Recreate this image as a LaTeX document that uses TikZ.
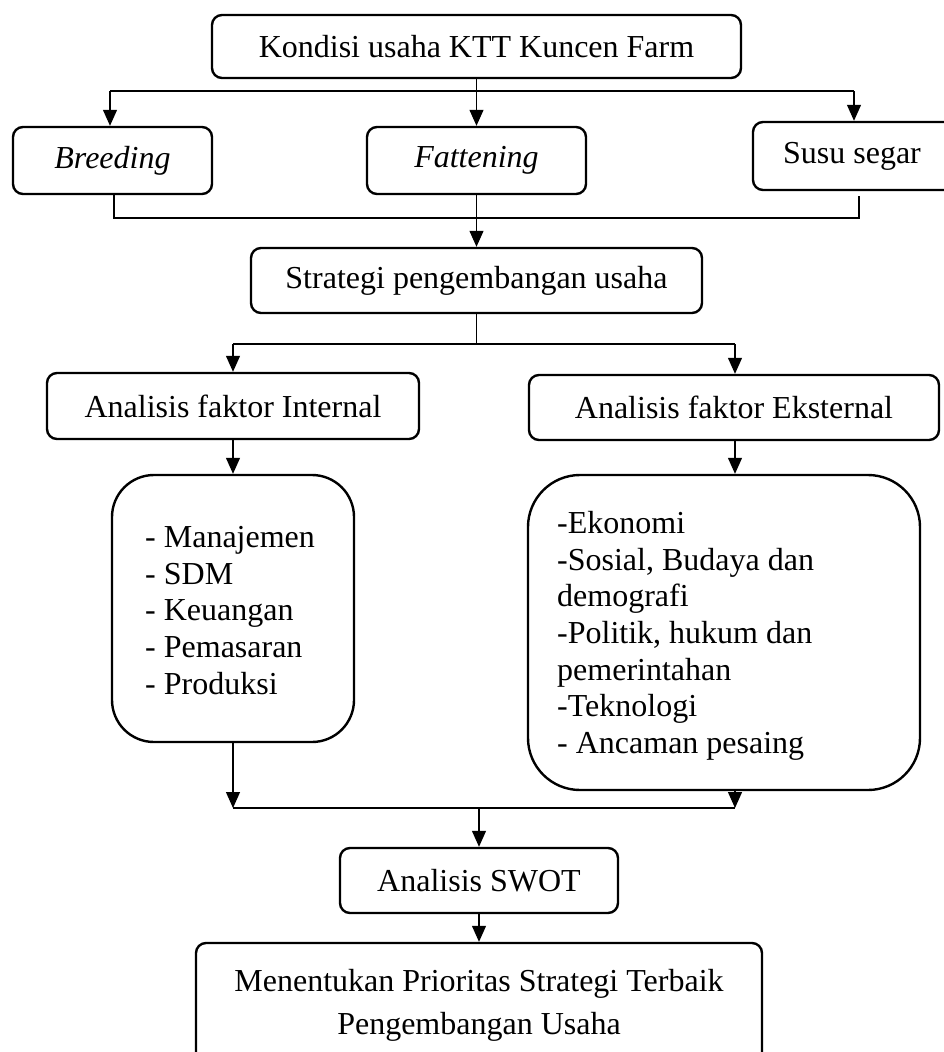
\documentclass[tikz,border=0pt]{standalone}
\usepackage{fontspec}
\setmainfont{Liberation Serif}
\usetikzlibrary{arrows.meta}
\begin{document}
\begin{tikzpicture}[x=1pt,y=-1pt,
  box/.style={draw, line width=2.4pt, rounded corners=10pt, inner sep=0pt,
    font=\fontsize{32}{37}\selectfont},
  listbox/.style={draw, line width=2.4pt, inner sep=0pt},
  conn/.style={line width=1.2pt},
  arr/.style={conn, -{Triangle[length=16pt,width=14pt]}},
  listtext/.style={inner sep=0pt, anchor=north west, align=left,
    font=\fontsize{32}{36.7}\selectfont}]
\useasboundingbox (0,0) rectangle (943,1052);

% boxes
\node[box, minimum width=529pt, minimum height=63pt] (top) at (476.5,46.5) {Kondisi usaha KTT Kuncen Farm};
\node[box, minimum width=199pt, minimum height=67pt] (breed) at (112.5,160.5) {\textit{Breeding}};
\node[box, minimum width=219pt, minimum height=67pt] (fat) at (476.5,160.5) {\textit{Fattening}};
\node[box, minimum width=230pt, minimum height=68pt] (susu) at (868,156) {Susu segar\hspace*{32pt}};
\node[box, minimum width=451pt, minimum height=65pt] (strat) at (476.5,280.5) {Strategi pengembangan usaha};
\node[box, minimum width=372pt, minimum height=66pt] (int) at (233,406) {Analisis faktor Internal};
\node[box, minimum width=410pt, minimum height=65pt] (ext) at (734,407.5) {Analisis faktor Eksternal};
\node[listbox, rounded corners=42pt, minimum width=242pt, minimum height=267pt] (intlist) at (233,608.5) {};
\node[listbox, rounded corners=52pt, minimum width=392pt, minimum height=315pt] (extlist) at (724,632.5) {};
\node[listtext] (inttext) at (145,526) {- Manajemen\\- SDM\\- Keuangan\\- Pemasaran\\- Produksi};
\node[listtext] (exttext) at (557,511) {-Ekonomi\\-Sosial, Budaya dan\\demografi\\-Politik, hukum dan\\pemerintahan\\-Teknologi\\- Ancaman pesaing};
\node[box, minimum width=278pt, minimum height=65pt] (swot) at (479,880.5) {Analisis SWOT};
\node[box, align=center, minimum width=566pt, minimum height=124pt, font=\fontsize{32}{43}\selectfont] (final) at (479,1005) {Menentukan Prioritas Strategi Terbaik\\Pengembangan Usaha};

% connectors: top level
\coordinate (hl) at (110,91);
\coordinate (hr) at (854,91);
\draw[arr] (top.south) -- (fat.north);
\draw[conn] (hl) -- (hr);
\draw[arr] (hl) -- (hl |- breed.north);
\draw[arr] (hr) -- (hr |- susu.north);

\coordinate (bl) at (114,218);
\coordinate (br) at (859,218);
\draw[conn] (bl |- breed.south) -- (bl) -- (br) -- ([yshift=-5pt]br |- susu.south);
\draw[arr] (fat.south) -- (strat.north);

% strategy split
\coordinate (sl) at (233,344);
\coordinate (sr) at (735,344);
\draw[conn] (strat.south) -- (strat.south |- sl);
\draw[conn] (sl) -- (sr);
\draw[arr] (sl) -- (int.north);
\draw[arr] (sr) -- (sr |- ext.north);
\draw[arr] (int.south) -- (intlist.north);
\coordinate (ex) at (735,440);
\draw[arr] (ex) -- (ex |- extlist.north);

% join
\coordinate (jl) at (233,808);
\coordinate (jr) at (735,808);
\coordinate (jm) at (479,808);
\draw[arr] (intlist.south) -- (jl);
\draw[arr] (jr |- extlist.south) -- (jr);
\draw[conn] (jl) -- (jr);
\draw[arr] (jm) -- (swot.north);
\draw[arr] (swot.south) -- (final.north);
\end{tikzpicture}
\end{document}
